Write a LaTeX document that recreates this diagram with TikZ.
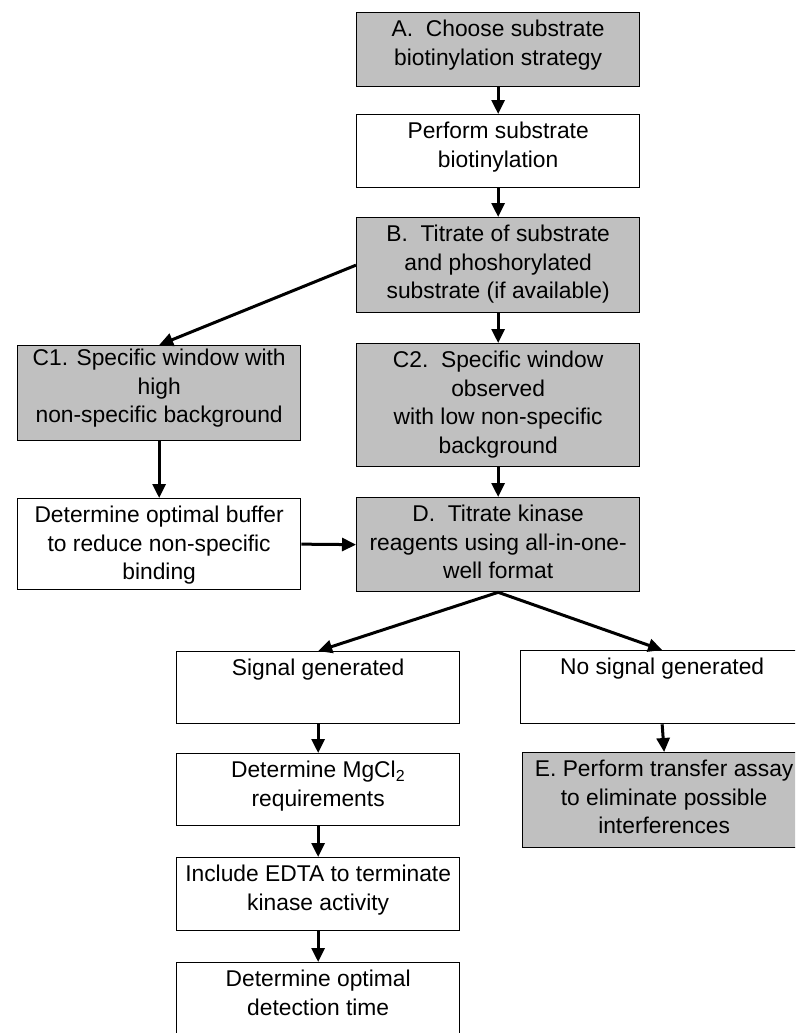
\documentclass[tikz,border=0pt]{standalone}
\usepackage{fontspec}
\setmainfont{Liberation Sans}
\usetikzlibrary{arrows.meta}
\definecolor{boxgray}{HTML}{C0C0C0}
\newcommand{\bxtext}[3][24pt]{\parbox[c][#2][t]{283pt}{\centering\rule{0pt}{#1}#3\par}}
\begin{document}
\begin{tikzpicture}[x=1pt,y=-1pt,
  basebox/.style={draw=black, line width=1.3pt, inner sep=0pt, anchor=north west,
    font=\fontsize{22.8}{28.5}\selectfont},
  graybox/.style={basebox, fill=boxgray},
  plainbox/.style={basebox, fill=white},
  arr/.style={line width=3pt, -{Triangle[length=14pt,width=13pt]}}]
\useasboundingbox (0,0) rectangle (795,1033);
\clip (0,0) rectangle (795,1033);
\node[graybox]  (A)   at (356,12)  {\bxtext{74pt}{A.\ \ Choose substrate\\biotinylation strategy}};
\node[plainbox] (P)   at (356,114) {\bxtext{73pt}{Perform substrate\\biotinylation}};
\node[graybox]  (B)   at (356,217) {\bxtext{95pt}{B.\ \ Titrate of substrate\\and phoshorylated\\substrate (if available)}};
\node[graybox]  (C1)  at (17,345)  {\bxtext[20pt]{95pt}{C1. Specific window with\\high\\non-specific background}};
\node[graybox]  (C2)  at (356,343) {\bxtext{123pt}{C2.\ \ Specific window\\observed\\with low non-specific\\background}};
\node[plainbox] (Buf) at (17,498)  {\bxtext{91pt}{Determine optimal buffer\\to reduce non-specific\\binding}};
\node[graybox]  (D)   at (356,497) {\bxtext{94pt}{D.\ \ Titrate kinase\\reagents using all-in-one-\\well format}};
\node[plainbox] (Sig) at (176,651) {\bxtext{72pt}{Signal generated}};
\node[plainbox] (NoS) at (520,650) {\bxtext{73pt}{No signal generated}};
\node[plainbox] (Mg)  at (176,753) {\bxtext{72pt}{Determine MgCl\textsubscript{2}\\requirements}};
\node[graybox]  (E)   at (522,752) {\bxtext{95pt}{E. Perform transfer assay\\to eliminate possible\\interferences}};
\node[plainbox] (Ed)  at (176,857) {\bxtext{73pt}{Include EDTA to terminate\\kinase activity}};
\node[plainbox] (Det) at (176,962) {\bxtext{75pt}{Determine optimal\\detection time}};
\draw[arr] (A.south) -- (P.north);
\draw[arr] (P.south) -- (B.north);
\draw[arr] (B.west) -- (C1.north);
\draw[arr] (B.south) -- (C2.north);
\draw[arr] (C1.south) -- (Buf.north);
\draw[arr] (Buf.east) -- (D.west);
\draw[arr] (C2.south) -- (D.north);
\draw[arr] (D.south) -- (Sig.north);
\draw[arr] (D.south) -- (NoS.north);
\draw[arr] (Sig.south) -- (Mg.north);
\draw[arr] (Mg.south) -- (Ed.north);
\draw[arr] (Ed.south) -- (Det.north);
\draw[arr] (NoS.south) -- (E.north);
\end{tikzpicture}
\end{document}
